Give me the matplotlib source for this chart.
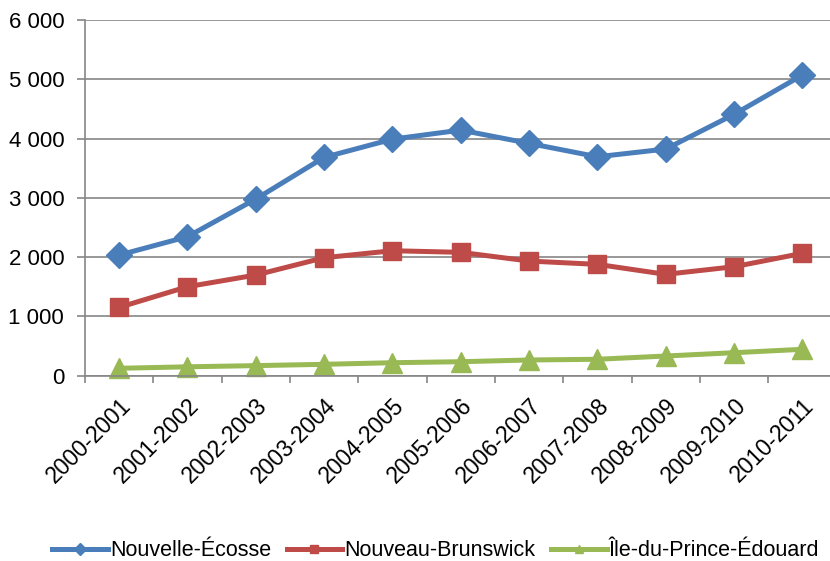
import matplotlib.pyplot as plt
from matplotlib.ticker import FuncFormatter

plt.rcParams['font.family'] = ['Liberation Sans', 'DejaVu Sans']

# années scolaires
annees = ['2000-2001', '2001-2002', '2002-2003', '2003-2004', '2004-2005',
          '2005-2006', '2006-2007', '2007-2008', '2008-2009', '2009-2010',
          '2010-2011']

nouvelle_ecosse = [2035, 2345, 2980, 3683, 3990, 4143, 3919, 3693, 3823, 4408, 5071]
nouveau_brunswick = [1153, 1501, 1698, 1990, 2108, 2081, 1934, 1878, 1710, 1838, 2064]
ipe = [125, 150, 170, 192, 219, 236, 265, 277, 332, 388, 445]

series = [
    ('Nouvelle-Écosse', nouvelle_ecosse, '#4a7ebb', 'D', 13),
    ('Nouveau-Brunswick', nouveau_brunswick, '#be4b48', 's', 13),
    ('Île-du-Prince-Édouard', ipe, '#98b954', '^', 14),
]

fig = plt.figure(figsize=(8.3, 5.61), dpi=100)
ax = fig.add_axes([85 / 830, 1 - 375.7 / 561, 751.5 / 830, 355.7 / 561])

x = list(range(len(annees)))
lignes = []
for nom, vals, couleur, mk, ms in series:
    l, = ax.plot(x, vals, color=couleur, lw=3.6, marker=mk, markersize=ms,
                 label=nom, solid_joinstyle='round', clip_on=False)
    lignes.append(l)

ax.set_ylim(0, 6000)
ax.set_yticks(range(0, 6001, 1000))
ax.yaxis.set_major_formatter(FuncFormatter(lambda v, p: '{:,}'.format(int(v)).replace(',', ' ')))
ax.set_xlim(-0.5, len(annees) - 0.5)
ax.set_xticks([i - 0.5 for i in range(len(annees) + 1)])
ax.set_xticklabels([])
ax.set_xticks(x, minor=True)
ax.set_xticklabels(annees, minor=True, rotation=45, ha='right', va='top',
                   rotation_mode='anchor', fontsize=16.5)
ax.tick_params(axis='x', which='minor', length=0, pad=13)
ax.tick_params(axis='x', which='major', length=5, width=1.2, color='#868686', direction='out')
ax.tick_params(axis='y', length=6, width=1.2, color='#868686', labelsize=16, pad=9)

ax.grid(axis='y', color='#868686', lw=1.2)
ax.set_axisbelow(True)
for s in ['top', 'right']:
    ax.spines[s].set_visible(False)
ax.spines['left'].set_color('#868686')
ax.spines['bottom'].set_color('#868686')
ax.spines['left'].set_linewidth(1.2)
ax.spines['bottom'].set_linewidth(1.2)

fig.legend(lignes, [s[0] for s in series], loc='center', bbox_to_anchor=(0.525, 1 - 551 / 561),
           ncol=3, frameon=False, fontsize=15.5, handlelength=2.6,
           handletextpad=0.1, columnspacing=0.7, markerscale=0.45)

fig.savefig('out.png', dpi=100)
